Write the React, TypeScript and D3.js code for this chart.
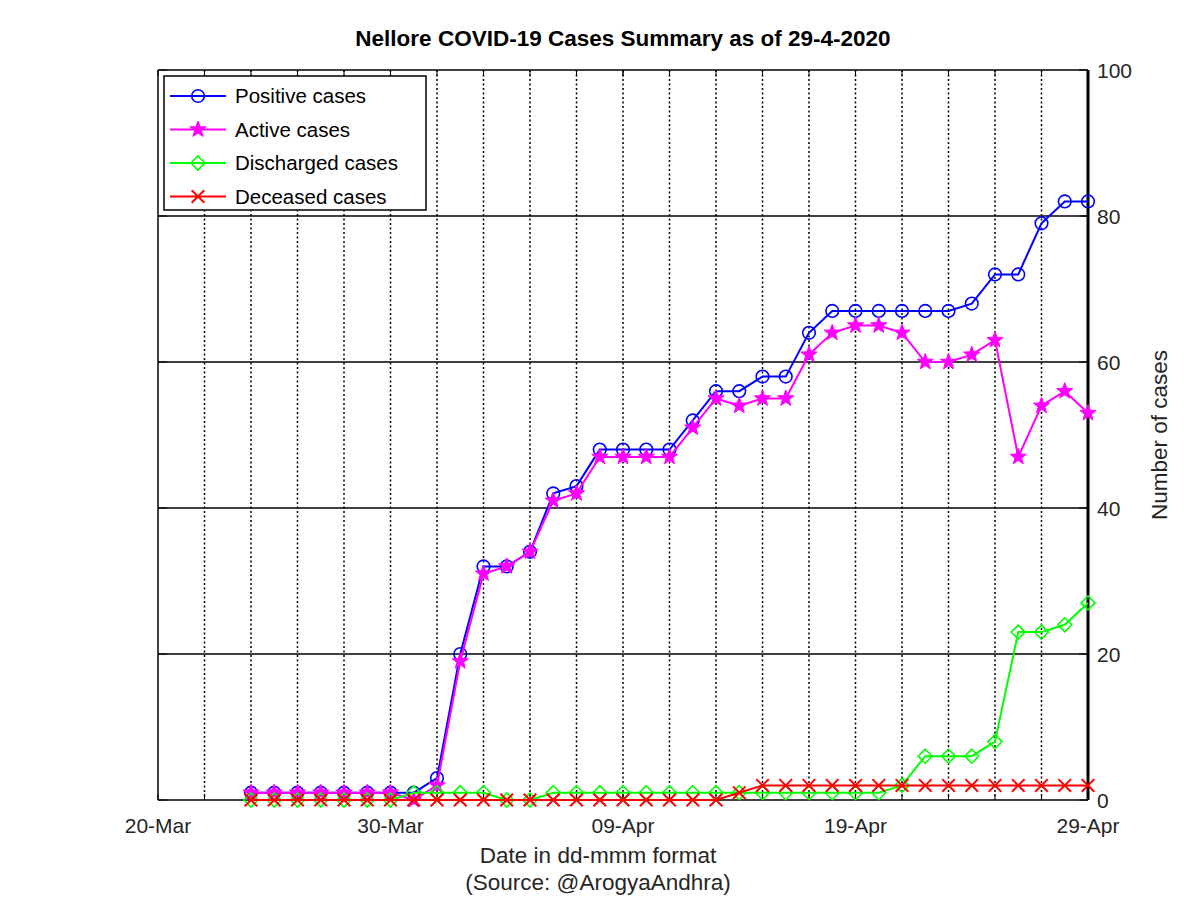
import React from "react";
import * as d3 from "d3";

const startDate = new Date(2020, 2, 20);
const endDate = new Date(2020, 3, 29);
const firstDataDate = new Date(2020, 2, 24);

const positive = [1,1,1,1,1,1,1,1,3,20,32,32,34,42,43,48,48,48,48,52,56,56,58,58,64,67,67,67,67,67,67,68,72,72,79,82,82];
const active = [1,1,1,1,1,1,1,0,2,19,31,32,34,41,42,47,47,47,47,51,55,54,55,55,61,64,65,65,64,60,60,61,63,47,54,56,53];
const discharged = [0,0,0,0,0,0,0,1,1,1,1,0,0,1,1,1,1,1,1,1,1,1,1,1,1,1,1,1,2,6,6,6,8,23,23,24,27];
const deceased = [0,0,0,0,0,0,0,0,0,0,0,0,0,0,0,0,0,0,0,0,0,1,2,2,2,2,2,2,2,2,2,2,2,2,2,2,2];

const yTicks = [0, 20, 40, 60, 80, 100];
const xTickLabels = ["20-Mar", "30-Mar", "09-Apr", "19-Apr", "29-Apr"];
const xTickDates = [new Date(2020,2,20), new Date(2020,2,30), new Date(2020,3,9), new Date(2020,3,19), new Date(2020,3,29)];

const seriesNames = ["Positive cases", "Active cases", "Discharged cases", "Deceased cases"];
const seriesColors = ["#0000ff", "#ff00ff", "#00ff00", "#ff0000"];
const seriesMarkers = ["circle", "star", "diamond", "x"];

const W = 1200, H = 898;
const L = 158, R = 1088, T = 70, B = 800;

const x = d3.scaleTime().domain([startDate, endDate]).range([L, R]);
const y = d3.scaleLinear().domain([0, 100]).range([B, T]);

const dates = positive.map((_, i) => d3.timeDay.offset(firstDataDate, i));
const allSeries = [positive, active, discharged, deceased];

function Marker({ type, cx, cy, color }: { type: string; cx: number; cy: number; color: string }) {
  if (type === "circle") return <circle cx={cx} cy={cy} r={6.3} fill="none" stroke={color} strokeWidth={1.6} />;
  if (type === "diamond") {
    const s = 7;
    return <path d={`M${cx},${cy - s}L${cx + s},${cy}L${cx},${cy + s}L${cx - s},${cy}Z`} fill="none" stroke={color} strokeWidth={1.6} />;
  }
  if (type === "x") {
    const s = 6.3;
    return <path d={`M${cx - s},${cy - s}L${cx + s},${cy + s}M${cx - s},${cy + s}L${cx + s},${cy - s}`} stroke={color} strokeWidth={2} />;
  }
  const pts: string[] = [];
  const ro = 8.5, ri = 3.5;
  for (let k = 0; k < 10; k++) {
    const r = k % 2 === 0 ? ro : ri;
    const a = -Math.PI / 2 + (k * Math.PI) / 5;
    pts.push(`${cx + r * Math.cos(a)},${cy + r * Math.sin(a)}`);
  }
  return <polygon points={pts.join(" ")} fill={color} stroke={color} strokeWidth={1} />;
}

export default function App() {
  const line = d3.line<number>().x((_, i) => x(dates[i])).y((d) => y(d));
  const gridDays = d3.range(2, 40, 2).map((n) => d3.timeDay.offset(startDate, n));
  const font = "'Liberation Sans', Arial, sans-serif";
  return (
    <svg width={W} height={H} style={{ position: "absolute", left: 0, top: 0, background: "#fff" }} fontFamily={font}>
      <rect x={0} y={0} width={W} height={H} fill="#fff" />
      <rect x={L} y={T} width={R - L} height={B - T} fill="#fff" />
      {yTicks.slice(1, -1).map((t) => (
        <line key={t} x1={L} x2={R} y1={y(t)} y2={y(t)} stroke="#000" strokeWidth={1.3} />
      ))}
      {gridDays.map((d, i) => (
        <line key={i} x1={x(d)} x2={x(d)} y1={T} y2={B} stroke="#000" strokeWidth={1.5} strokeDasharray="2,2.5" />
      ))}
      {gridDays.concat(xTickDates).map((d, i) => (
        <g key={"t" + i}>
          <line x1={x(d)} x2={x(d)} y1={B} y2={B - 6} stroke="#000" strokeWidth={1} />
          <line x1={x(d)} x2={x(d)} y1={T} y2={T + 6} stroke="#000" strokeWidth={1} />
        </g>
      ))}
      {yTicks.map((t) => (
        <g key={"y" + t}>
          <line x1={R} x2={R - 9} y1={y(t)} y2={y(t)} stroke="#000" strokeWidth={1} />
          <line x1={L} x2={L + 9} y1={y(t)} y2={y(t)} stroke="#000" strokeWidth={1} />
          <text x={R + 9} y={y(t)} dy="0.36em" fontSize={21} fill="#262626">{t}</text>
        </g>
      ))}
      <line x1={L} x2={R} y1={T} y2={T} stroke="#000" strokeWidth={1.5} />
      <line x1={L} x2={R} y1={B} y2={B} stroke="#000" strokeWidth={1.5} />
      <line x1={L} x2={L} y1={T} y2={B} stroke="#000" strokeWidth={1.5} />
      <line x1={R} x2={R} y1={T} y2={B} stroke="#000" strokeWidth={3} />
      {xTickDates.map((d, i) => (
        <text key={"xl" + i} x={x(d)} y={833} textAnchor="middle" fontSize={21} fill="#262626">{xTickLabels[i]}</text>
      ))}
      {allSeries.map((s, k) => (
        <g key={"s" + k}>
          <path d={line(s)!} fill="none" stroke={seriesColors[k]} strokeWidth={2} />
          {s.map((v, i) => (
            <Marker key={i} type={seriesMarkers[k]} cx={x(dates[i])} cy={y(v)} color={seriesColors[k]} />
          ))}
        </g>
      ))}
      <rect x={164} y={76} width={262} height={134} fill="#fff" stroke="#000" strokeWidth={1.5} />
      {seriesNames.map((n, i) => {
        const ly = 96 + i * 33.5;
        return (
          <g key={"lg" + i}>
            <line x1={170} x2={226} y1={ly} y2={ly} stroke={seriesColors[i]} strokeWidth={2} />
            <Marker type={seriesMarkers[i]} cx={198} cy={ly} color={seriesColors[i]} />
            <text x={235} y={ly} dy="0.36em" fontSize={20.5} fill="#000">{n}</text>
          </g>
        );
      })}
      <text x={623} y={46} textAnchor="middle" fontSize={22.5} fontWeight="bold" fill="#000">
        Nellore COVID-19 Cases Summary as of 29-4-2020
      </text>
      <text x={598} y={863} textAnchor="middle" fontSize={22.5} fill="#262626">Date in dd-mmm format</text>
      <text x={598} y={890} textAnchor="middle" fontSize={22.5} fill="#262626">(Source: @ArogyaAndhra)</text>
      <text transform={`translate(1167,${(T + B) / 2}) rotate(-90)`} textAnchor="middle" fontSize={22.5} fill="#262626">Number of cases</text>
    </svg>
  );
}
